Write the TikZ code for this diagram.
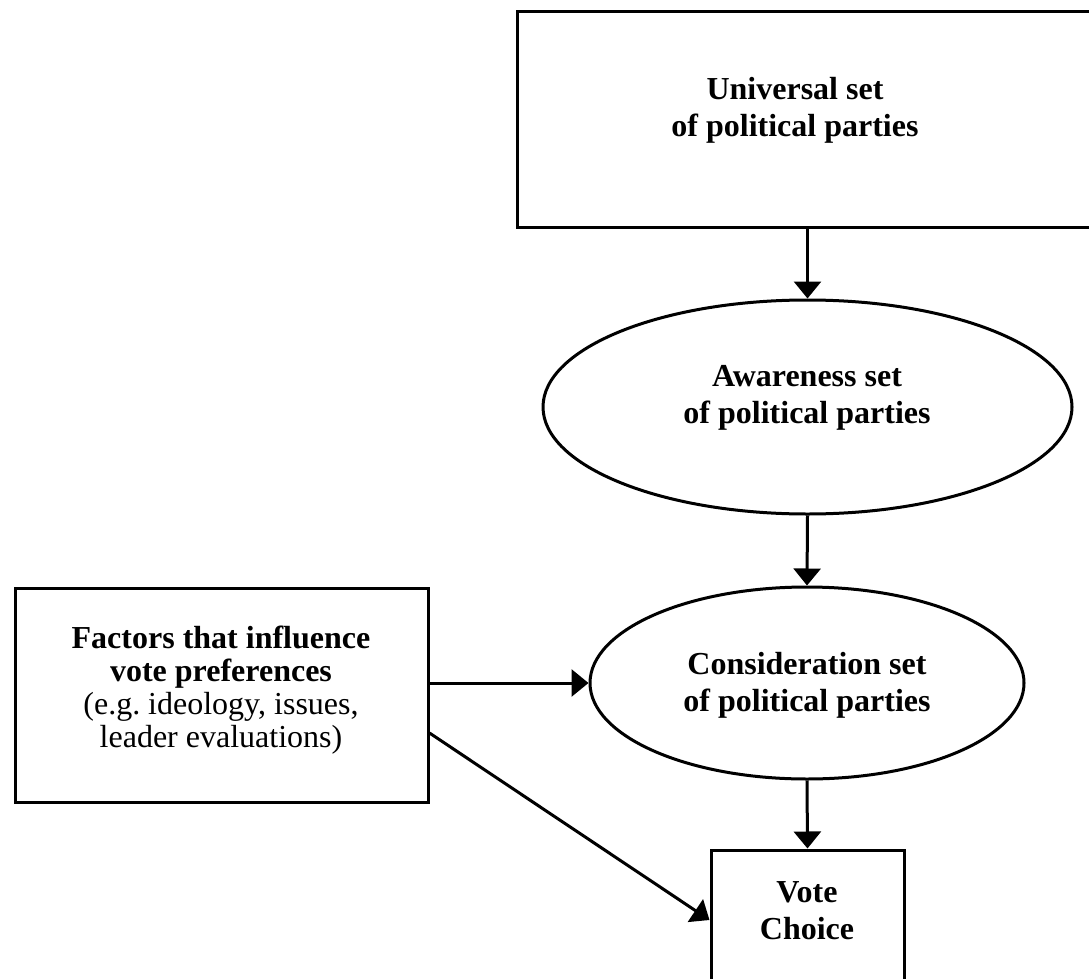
\documentclass[tikz,border=0pt]{standalone}
\usepackage{fontspec}
\setmainfont{Liberation Serif}
\usetikzlibrary{shapes.geometric,arrows.meta}
\begin{document}
\begin{tikzpicture}[x=1pt,y=-1pt,
  box/.style={draw,line width=3pt,rectangle,inner sep=0pt},
  oval/.style={draw,line width=3pt,ellipse,inner sep=0pt},
  lbl/.style={align=center,font=\fontsize{32}{37}\selectfont\bfseries,inner sep=0pt},
  lbltight/.style={align=center,font=\fontsize{32}{33}\selectfont,inner sep=0pt},
  conn/.style={line width=3pt,-{Triangle[length=17pt,width=27pt]}}]
\useasboundingbox (0,0) rectangle (1089,979);
% shapes
\node[box,minimum width=578pt,minimum height=215pt] (univ) at (806,119.5) {};
\node[oval,minimum width=529pt,minimum height=214pt] (aware) at (807.5,407) {};
\node[oval,minimum width=434pt,minimum height=192pt] (consid) at (807,683) {};
\node[box,minimum width=413pt,minimum height=214pt] (factors) at (221.5,695) {};
\node[box,minimum width=193pt,minimum height=160pt] (vote) at (807.5,930) {};
% texts
\node[lbl] (univtext) at (795,110) {Universal set\\of political parties};
\node[lbl] (awaretext) at (807,398) {Awareness set\\of political parties};
\node[lbl] (considtext) at (807,685) {Consideration set\\of political parties};
\node[lbltight] (factorstext) at (221,690) {\textbf{Factors that influence}\\\textbf{vote preferences}\\(e.g.\ ideology, issues,\\leader evaluations)};
\node[lbl] (votetext) at (807,911) {Vote\\Choice};
% connectors
\draw[conn] (aware.north |- univ.south) -- (aware.north);
\draw[conn] (aware.south) -- (consid.north);
\draw[conn] (consid.south) -- (vote.north);
\draw[conn] (factors.east |- consid.west) -- (consid.west);
\draw[conn] ([yshift=-38pt]factors.east) -- ([yshift=10pt]vote.west);
\end{tikzpicture}
\end{document}
